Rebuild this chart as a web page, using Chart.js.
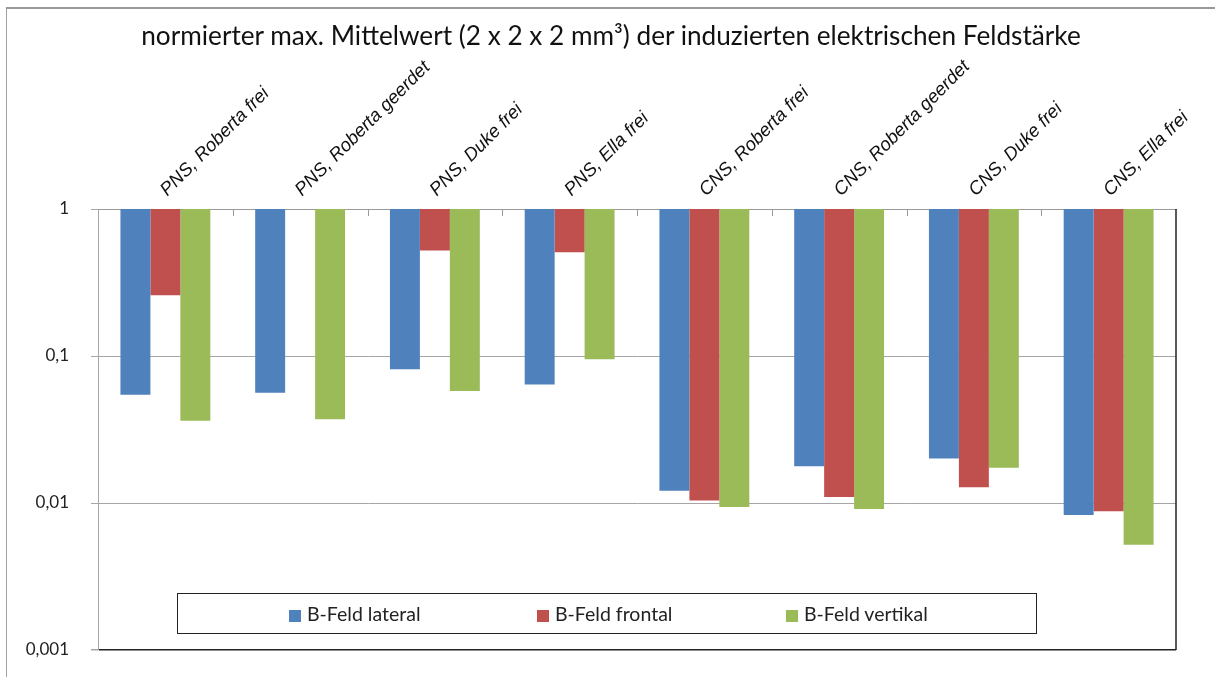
<!DOCTYPE html>
<html>
<head>
<meta charset="utf-8">
<script src="https://cdn.jsdelivr.net/npm/chart.js@4.4.0/dist/chart.umd.min.js"></script>
<style>
    html, body { margin: 0; background: #fff; overflow: hidden; }
    #wrap { position: relative; width: 1215px; height: 677px; overflow: hidden; }
    #feldChart { display: block; }
    #frame { position: absolute; left: 6px; top: 7px; width: 1300px; height: 800px;
             border-left: 1px solid #a0a0a0; border-top: 2px solid #999; }
    #titel { position: absolute; left: 0; width: 1222px; top: 19px; text-align: center;
             font-family: Lato, sans-serif; font-size: 26.2px; color: #111; }
    #legende { position: absolute; left: 177px; top: 593px; width: 858px; height: 39px;
               border: 1.5px solid #222; background: #fff;
               font-family: Lato, sans-serif; font-size: 19.5px; color: #222; }
    .eintrag { position: absolute; top: 8px; white-space: nowrap; }
    .eintrag span { display: inline-block; width: 12px; height: 12px; margin-right: 6px; vertical-align: -1px; }
</style>
</head>
<body>
<div id="wrap">
    <div id="frame"></div>
    <canvas id="feldChart" width="1215" height="677"></canvas>
    <div id="titel">normierter max. Mittelwert (2 x 2 x 2 mm³) der induzierten elektrischen Feldstärke</div>
    <div id="legende"></div>
</div>
<script>
// Kategorien (Organ, Modell, Zustand)
var kategorien = [
    "PNS, Roberta frei",
    "PNS, Roberta geerdet",
    "PNS, Duke frei",
    "PNS, Ella frei",
    "CNS, Roberta frei",
    "CNS, Roberta geerdet",
    "CNS, Duke frei",
    "CNS, Ella frei"
];

// Werte (log. Skala)
var bFeldLateral  = [0.0546, 0.0563, 0.0811, 0.0641, 0.0121, 0.0178, 0.0201, 0.0083];
var bFeldFrontal  = [0.259, null, 0.521, 0.507, 0.0104, 0.0110, 0.0128, 0.0088];
var bFeldVertikal = [0.0363, 0.0371, 0.0578, 0.0949, 0.0094, 0.0091, 0.0174, 0.0052];

var serienNamen = ["B-Feld lateral", "B-Feld frontal", "B-Feld vertikal"];
var serienFarben = ["#4f81bd", "#c0504d", "#9bbb59"];
var yTicks = [0.001, 0.01, 0.1, 1];
var basisWert = 1; // Balken haengen von 1 nach unten

function alsBalken(werte) {
    return werte.map(function (v) { return v === null ? null : [v, basisWert]; });
}

// Rahmen rechts und kleine Teilstriche an der oberen Achse
var rahmenPlugin = {
    id: "rahmen",
    afterDraw: function (chart) {
        var ctx = chart.ctx;
        var a = chart.chartArea;
        var n = kategorien.length;
        var w = (a.right - a.left) / n;
        ctx.save();
        ctx.strokeStyle = "#9a9a9a";
        ctx.lineWidth = 1;
        for (var i = 1; i < n; i++) {
            var x = Math.round(a.left + i * w) + 0.5;
            ctx.beginPath();
            ctx.moveTo(x, a.top);
            ctx.lineTo(x, a.top + 7);
            ctx.stroke();
        }
        ctx.strokeStyle = "#222";
        ctx.lineWidth = 1.5;
        ctx.beginPath();
        ctx.moveTo(a.right, a.top);
        ctx.lineTo(a.right, a.bottom);
        ctx.stroke();
        ctx.restore();
    }
};

var ctx = document.getElementById("feldChart").getContext("2d");
var feldChart = new Chart(ctx, {
    type: "bar",
    data: {
        labels: kategorien,
        datasets: [
            { label: serienNamen[0], data: alsBalken(bFeldLateral), backgroundColor: serienFarben[0] },
            { label: serienNamen[1], data: alsBalken(bFeldFrontal), backgroundColor: serienFarben[1] },
            { label: serienNamen[2], data: alsBalken(bFeldVertikal), backgroundColor: serienFarben[2] }
        ]
    },
    options: {
        responsive: false,
        animation: false,
        layout: { padding: { left: 0, right: 39, top: 0, bottom: 27 } },
        datasets: {
            bar: { categoryPercentage: 0.667, barPercentage: 1.0, borderWidth: 0 }
        },
        scales: {
            x: {
                position: "top",
                offset: true,
                grid: { display: true, offset: true, drawOnChartArea: false, drawTicks: false },
                border: { color: "#9a9a9a", width: 1 },
                ticks: {
                    autoSkip: false,
                    maxRotation: 45,
                    minRotation: 45,
                    padding: 8,
                    labelOffset: 14,
                    color: "#111",
                    font: { family: "'Liberation Sans', Arial, sans-serif", size: 18.5, style: "italic" }
                },
                afterFit: function (scale) { scale.height = 209; }
            },
            y: {
                type: "logarithmic",
                min: 0.001,
                max: 1,
                afterBuildTicks: function (scale) {
                    scale.ticks = yTicks.map(function (v) { return { value: v }; });
                },
                afterFit: function (scale) {
                    scale.width = 98;
                    scale.paddingTop = 0;
                    scale.paddingBottom = 0;
                },
                grid: {
                    color: function (c) { return c.tick && c.tick.value === 0.001 ? "#222" : "#a6a6a6"; },
                    lineWidth: function (c) { return c.tick && c.tick.value === 0.001 ? 1.5 : 1; },
                    tickColor: "#a6a6a6",
                    tickLength: 7
                },
                border: { color: "#a6a6a6", width: 1 },
                ticks: {
                    padding: 22,
                    color: "#222",
                    font: { family: "Lato, sans-serif", size: 17 },
                    callback: function (v) { return String(v).replace(".", ","); }
                }
            }
        },
        plugins: {
            legend: { display: false },
            title: { display: false },
            tooltip: { enabled: false }
        }
    },
    plugins: [rahmenPlugin]
});

// Legende im Diagramm
var legPos = [111, 359, 608];
var leg = document.getElementById("legende");
serienNamen.forEach(function (name, i) {
    var d = document.createElement("div");
    d.className = "eintrag";
    d.style.left = legPos[i] + "px";
    var s = document.createElement("span");
    s.style.background = serienFarben[i];
    d.appendChild(s);
    d.appendChild(document.createTextNode(name));
    leg.appendChild(d);
});
</script>
</body>
</html>
